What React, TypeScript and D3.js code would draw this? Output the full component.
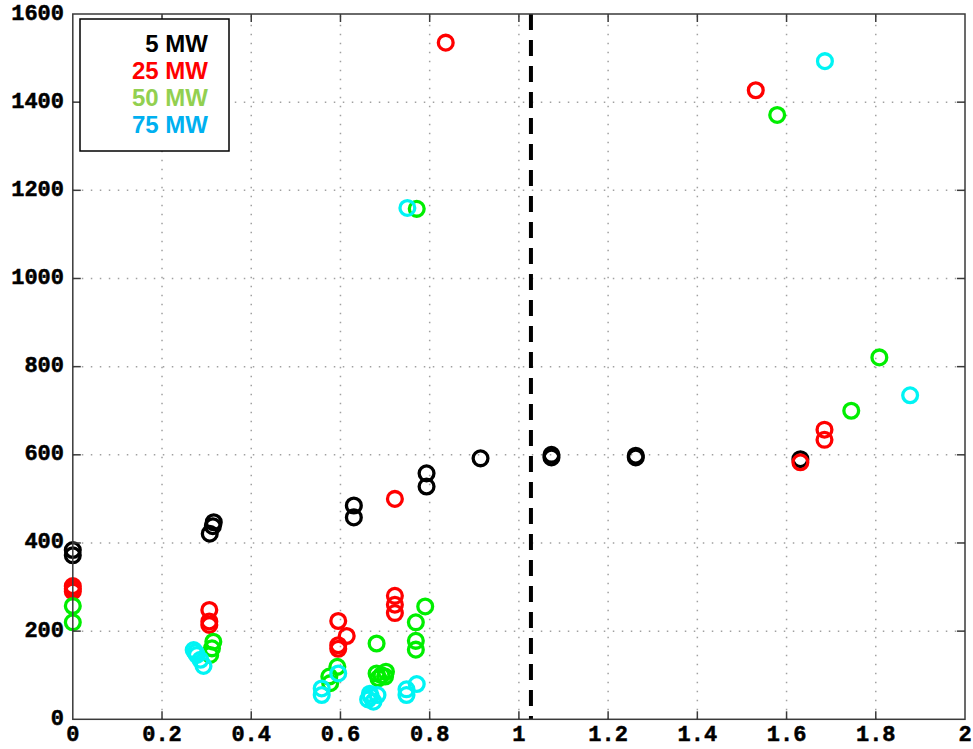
import React from "react";
import * as d3 from "d3";

// 5 MW series
const blackX = [0, 0, 0.307, 0.314, 0.316, 0.63, 0.63, 0.793, 0.793, 0.914, 1.073, 1.073, 1.262, 1.262, 1.631];
const blackY = [384, 372, 421, 438, 447, 485, 458, 558, 528, 592, 600, 594, 598, 594, 590];

// 25 MW series
const redX = [0, 0, 0, 0.306, 0.306, 0.306, 0.595, 0.595, 0.595, 0.614, 0.722, 0.722, 0.722, 0.722, 0.836, 1.531, 1.631, 1.685, 1.685];
const redY = [302, 296, 290, 248, 222, 214, 223, 168, 160, 189, 500, 280, 260, 241, 1535, 1427, 583, 657, 634];

// 50 MW series
const greenX = [0, 0, 0.308, 0.312, 0.315, 0.575, 0.577, 0.593, 0.681, 0.681, 0.685, 0.692, 0.7, 0.702, 0.769, 0.769, 0.769, 0.771, 0.79, 1.579, 1.745, 1.808];
const greenY = [257, 220, 146, 161, 176, 97, 82, 119, 172, 104, 93, 100, 97, 108, 220, 178, 158, 1158, 256, 1371, 700, 821];

// 75 MW series
const cyanX = [0.271, 0.275, 0.278, 0.286, 0.293, 0.558, 0.558, 0.595, 0.662, 0.666, 0.668, 0.674, 0.683, 0.748, 0.748, 0.771, 0.75, 1.686, 1.877];
const cyanY = [157, 152, 146, 135, 121, 70, 55, 104, 45, 58, 52, 40, 55, 68, 55, 80, 1160, 1493, 735];

const xTicks = [0, 0.2, 0.4, 0.6, 0.8, 1, 1.2, 1.4, 1.6, 1.8, 2];
const yTicks = [0, 200, 400, 600, 800, 1000, 1200, 1400, 1600];
const xTickLabels = ["0", "0.2", "0.4", "0.6", "0.8", "1", "1.2", "1.4", "1.6", "1.8", "2"];
const yTickLabels = ["0", "200", "400", "600", "800", "1000", "1200", "1400", "1600"];

const legendLabels = ["5 MW", "25 MW", "50 MW", "75 MW"];
const legendColors = ["#000000", "#ff0000", "#92d050", "#00b0f0"];

const thresholdX = 1.027;

const series = [
  { xs: blackX, ys: blackY, color: "#000000" },
  { xs: redX, ys: redY, color: "#ff0000" },
  { xs: greenX, ys: greenY, color: "#00ee00" },
  { xs: cyanX, ys: cyanY, color: "#00f4f4" },
];

const W = 973;
const H = 749;
const left = 72.8;
const right = 965;
const top = 14;
const bottom = 719.3;

export default function App() {
  const x = d3.scaleLinear().domain([0, 2]).range([left, right]);
  const y = d3.scaleLinear().domain([0, 1600]).range([bottom, top]);
  const tickFont = "'Liberation Mono', 'DejaVu Sans Mono', monospace";
  const tickLen = 8;

  return (
    <svg
      width={W}
      height={H}
      style={{ position: "absolute", left: 0, top: 0, background: "#fff" }}
    >
      <rect x={0} y={0} width={W} height={H} fill="#fff" />
      {/* dotted grid */}
      <g stroke="#a0a0a0" strokeWidth={1.5} strokeDasharray="1.5,7.5">
        {xTicks.slice(1, -1).map((t) => (
          <line key={"gx" + t} x1={x(t)} x2={x(t)} y1={bottom} y2={top} />
        ))}
        {yTicks.slice(1, -1).map((t) => (
          <line key={"gy" + t} x1={left} x2={right} y1={y(t)} y2={y(t)} />
        ))}
      </g>

      {/* threshold line */}
      <line
        x1={x(thresholdX)}
        x2={x(thresholdX)}
        y1={top}
        y2={bottom}
        stroke="#000"
        strokeWidth={4}
        strokeDasharray="16,10"
      />

      {/* markers */}
      {series.map((s, si) => (
        <g key={si} fill="none" stroke={s.color} strokeWidth={3.3}>
          {s.xs.map((v, i) => (
            <circle key={i} cx={x(v)} cy={y(s.ys[i])} r={7.4} />
          ))}
        </g>
      ))}

      {/* axes box and ticks */}
      <g stroke="#3a3a3a" strokeWidth={1.5}>
        <rect x={left} y={top} width={right - left} height={bottom - top} fill="none" />
        {xTicks.slice(1, -1).map((t) => (
          <g key={"tx" + t}>
            <line x1={x(t)} x2={x(t)} y1={bottom} y2={bottom - tickLen} />
            <line x1={x(t)} x2={x(t)} y1={top} y2={top + tickLen} />
          </g>
        ))}
        {yTicks.slice(1, -1).map((t) => (
          <g key={"ty" + t}>
            <line x1={left} x2={left + tickLen} y1={y(t)} y2={y(t)} />
            <line x1={right} x2={right - tickLen} y1={y(t)} y2={y(t)} />
          </g>
        ))}
      </g>

      {/* tick labels */}
      <g fontFamily={tickFont} fontWeight="bold" fontSize={22} fill="#000" stroke="#000" strokeWidth={0.5}>
        {xTicks.map((t, i) => (
          <text key={"lx" + t} x={x(t)} y={741} textAnchor="middle">
            {xTickLabels[i]}
          </text>
        ))}
        {yTicks.map((t, i) => (
          <text key={"ly" + t} x={64} y={y(t)} textAnchor="end" dominantBaseline="central">
            {yTickLabels[i]}
          </text>
        ))}
      </g>

      {/* legend */}
      <rect x={80} y={19} width={149} height={132} fill="#fff" stroke="#000" strokeWidth={1.5} />
      <g fontFamily="'Liberation Sans', Arial, sans-serif" fontWeight="bold" fontSize={24}>
        {legendLabels.map((l, i) => (
          <text key={l} x={208} y={52.3 + i * 26.8} textAnchor="end" fill={legendColors[i]}>
            {l}
          </text>
        ))}
      </g>
    </svg>
  );
}
